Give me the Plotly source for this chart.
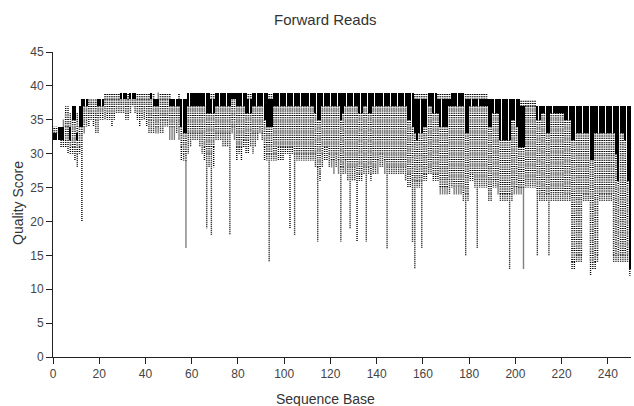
import plotly.graph_objects as go

# Per-base quality percentiles (2nd, 9th, 25th, 75th, 91st, 98th)
bases = list(range(1, 251))

q02 = [
    32, 32, 32, 31, 31, 31, 30, 30, 30, 29,
    28, 30, 20, 33, 34, 34, 35, 34, 33, 33,
    35, 35, 35, 35, 35, 34, 35, 36, 36, 36,
    36, 35, 35, 36, 37, 36, 35, 34, 35, 35,
    34, 33, 33, 33, 33, 33, 33, 33, 34, 34,
    32, 32, 32, 33, 32, 29, 29, 16, 30, 31,
    32, 32, 32, 31, 30, 29, 19, 28, 18, 28,
    32, 32, 32, 31, 31, 31, 18, 33, 32, 29,
    30, 29, 31, 30, 30, 31, 30, 31, 32, 33,
    32, 29, 29, 14, 29, 29, 29, 29, 29, 29,
    30, 30, 19, 30, 18, 29, 29, 29, 29, 29,
    29, 29, 29, 28, 17, 26, 28, 29, 29, 28,
    28, 27, 28, 27, 17, 27, 27, 26, 19, 26,
    26, 17, 26, 26, 27, 17, 27, 26, 27, 27,
    27, 28, 28, 27, 16, 27, 27, 27, 27, 27,
    27, 27, 26, 25, 25, 17, 13, 25, 25, 16,
    26, 26, 27, 27, 26, 26, 26, 24, 24, 24,
    24, 24, 25, 24, 24, 24, 24, 23, 15, 23,
    26, 26, 25, 16, 25, 25, 25, 25, 23, 23,
    25, 25, 24, 23, 23, 23, 23, 13, 23, 24,
    24, 24, 24, 13, 25, 25, 25, 25, 25, 15,
    23, 23, 23, 23, 15, 23, 23, 23, 23, 23,
    23, 23, 23, 23, 13, 13, 14, 14, 14, 23,
    23, 23, 12, 13, 13, 14, 23, 23, 23, 23,
    23, 23, 14, 14, 14, 14, 14, 14, 14, 12,
]

q09 = [
    32, 32, 32, 32, 32, 32, 32, 31, 31, 31,
    30, 31, 32, 34, 35, 36, 36, 36, 35, 35,
    36, 36, 37, 36, 36, 36, 36, 37, 37, 37,
    37, 36, 36, 37, 37, 37, 36, 36, 36, 37,
    36, 35, 35, 35, 34, 34, 35, 35, 35, 35,
    34, 34, 34, 35, 34, 31, 30, 29, 33, 33,
    33, 33, 33, 33, 33, 31, 30, 30, 30, 31,
    33, 33, 33, 33, 33, 33, 33, 34, 34, 31,
    31, 31, 32, 32, 32, 33, 33, 33, 33, 34,
    33, 31, 30, 30, 30, 30, 30, 31, 31, 31,
    31, 31, 31, 31, 30, 30, 30, 30, 30, 30,
    30, 30, 30, 30, 28, 27, 30, 31, 31, 30,
    29, 29, 30, 29, 28, 28, 29, 28, 28, 28,
    28, 27, 27, 27, 28, 28, 28, 27, 28, 28,
    29, 30, 30, 29, 28, 28, 28, 28, 28, 28,
    28, 28, 28, 27, 27, 26, 26, 26, 26, 26,
    27, 27, 28, 28, 27, 27, 27, 25, 25, 25,
    25, 26, 26, 25, 25, 25, 25, 24, 24, 24,
    27, 27, 26, 26, 26, 26, 26, 26, 24, 24,
    26, 26, 25, 24, 24, 24, 24, 24, 24, 25,
    25, 25, 25, 25, 26, 26, 26, 26, 26, 24,
    24, 24, 24, 24, 24, 24, 24, 24, 24, 24,
    24, 24, 24, 24, 14, 14, 15, 15, 15, 24,
    24, 24, 14, 14, 14, 15, 24, 24, 24, 24,
    24, 24, 15, 15, 15, 15, 15, 15, 15, 13,
]

q25 = [
    32, 32, 32, 32, 32, 34, 34, 32, 35, 35,
    32, 34, 34, 37, 37, 38, 38, 38, 38, 37,
    37, 37, 38, 38, 38, 38, 38, 38, 38, 38,
    38, 38, 38, 38, 38, 38, 38, 38, 38, 38,
    38, 38, 38, 37, 37, 37, 38, 38, 38, 38,
    37, 37, 37, 37, 37, 34, 33, 33, 37, 37,
    37, 37, 37, 37, 37, 37, 36, 36, 36, 36,
    37, 37, 37, 37, 37, 37, 37, 38, 38, 37,
    37, 37, 37, 36, 36, 36, 37, 37, 37, 37,
    37, 35, 34, 34, 34, 37, 37, 37, 37, 37,
    37, 37, 37, 37, 37, 37, 37, 37, 37, 37,
    37, 37, 37, 36, 35, 35, 37, 37, 37, 37,
    37, 37, 37, 37, 35, 36, 37, 37, 37, 37,
    37, 37, 36, 36, 37, 37, 36, 36, 37, 37,
    37, 37, 37, 37, 37, 37, 37, 37, 37, 37,
    37, 37, 37, 35, 35, 34, 33, 32, 33, 33,
    34, 34, 37, 37, 36, 36, 36, 34, 34, 34,
    34, 37, 37, 37, 37, 37, 37, 37, 33, 33,
    37, 37, 37, 37, 37, 37, 37, 37, 34, 34,
    36, 36, 36, 32, 32, 32, 32, 32, 35, 35,
    34, 31, 31, 31, 37, 37, 37, 37, 37, 35,
    35, 36, 36, 33, 33, 36, 36, 36, 36, 36,
    36, 35, 35, 35, 32, 32, 33, 33, 33, 33,
    33, 33, 29, 29, 33, 33, 33, 33, 33, 33,
    33, 33, 33, 30, 26, 33, 33, 32, 26, 13,
]

q75 = [
    33, 33, 34, 34, 34, 34, 34, 34, 37, 37,
    33, 37, 38, 38, 38, 38, 38, 38, 38, 38,
    38, 38, 38, 38, 38, 38, 38, 38, 38, 39,
    39, 39, 38, 39, 39, 39, 38, 38, 38, 38,
    38, 38, 39, 38, 38, 38, 38, 38, 38, 38,
    38, 38, 38, 38, 38, 38, 38, 38, 39, 39,
    39, 39, 39, 39, 39, 39, 39, 39, 38, 38,
    39, 39, 39, 39, 39, 39, 39, 39, 39, 39,
    39, 39, 39, 39, 38, 38, 39, 39, 39, 39,
    39, 39, 39, 38, 38, 39, 39, 39, 39, 39,
    39, 39, 39, 39, 39, 39, 39, 39, 39, 39,
    39, 39, 39, 39, 39, 39, 39, 39, 39, 39,
    39, 39, 39, 39, 39, 39, 39, 39, 39, 39,
    39, 39, 39, 39, 39, 39, 39, 39, 39, 39,
    39, 39, 39, 39, 39, 39, 39, 39, 39, 39,
    39, 39, 39, 39, 39, 39, 38, 38, 38, 38,
    38, 38, 39, 39, 39, 39, 38, 38, 38, 38,
    38, 38, 39, 39, 39, 39, 39, 39, 38, 38,
    38, 38, 38, 38, 38, 38, 38, 38, 38, 38,
    38, 38, 38, 38, 38, 38, 38, 38, 38, 38,
    38, 38, 37, 37, 37, 37, 37, 37, 37, 37,
    37, 37, 37, 37, 37, 37, 37, 37, 37, 37,
    37, 37, 37, 37, 37, 37, 37, 37, 37, 37,
    37, 37, 37, 37, 37, 37, 37, 37, 37, 37,
    37, 37, 37, 37, 37, 37, 37, 37, 37, 37,
]

q91 = [
    34, 34, 34, 34, 34, 36, 36, 35, 37, 37,
    35, 37, 38, 38, 38, 38, 38, 38, 38, 38,
    38, 38, 39, 39, 39, 39, 39, 39, 39, 39,
    39, 39, 39, 39, 39, 39, 39, 39, 39, 39,
    39, 39, 39, 39, 38, 38, 39, 39, 39, 39,
    39, 38, 38, 38, 39, 38, 38, 38, 39, 39,
    39, 39, 39, 39, 39, 39, 39, 39, 39, 39,
    39, 39, 39, 39, 39, 39, 39, 39, 39, 39,
    39, 39, 39, 39, 39, 39, 39, 39, 39, 39,
    39, 39, 39, 39, 39, 39, 39, 39, 39, 39,
    39, 39, 39, 39, 39, 39, 39, 39, 39, 39,
    39, 39, 39, 39, 39, 39, 39, 39, 39, 39,
    39, 39, 39, 39, 39, 39, 39, 39, 39, 39,
    39, 39, 39, 39, 39, 39, 39, 39, 39, 39,
    39, 39, 39, 39, 39, 39, 39, 39, 39, 39,
    39, 39, 39, 39, 39, 39, 39, 39, 39, 39,
    39, 39, 39, 39, 39, 39, 39, 39, 39, 39,
    39, 39, 39, 39, 39, 39, 39, 39, 39, 39,
    39, 39, 39, 39, 39, 39, 39, 39, 38, 38,
    38, 38, 38, 38, 38, 38, 38, 38, 38, 38,
    38, 38, 38, 38, 38, 38, 38, 38, 38, 37,
    37, 37, 37, 37, 37, 37, 37, 37, 37, 37,
    37, 37, 37, 37, 37, 37, 37, 37, 37, 37,
    37, 37, 37, 37, 37, 37, 37, 37, 37, 37,
    37, 37, 37, 37, 37, 37, 37, 37, 37, 37,
]

q98 = [
    34, 34, 34, 34, 35, 37, 37, 36, 37, 37,
    36, 37, 38, 38, 38, 38, 38, 38, 38, 38,
    38, 38, 39, 39, 39, 39, 39, 39, 39, 39,
    39, 39, 39, 39, 39, 39, 39, 39, 39, 39,
    39, 39, 39, 39, 38, 39, 39, 39, 39, 39,
    39, 38, 38, 38, 39, 38, 38, 38, 39, 39,
    39, 39, 39, 39, 39, 39, 39, 39, 39, 39,
    39, 39, 39, 39, 39, 39, 39, 39, 39, 39,
    39, 39, 39, 39, 39, 39, 39, 39, 39, 39,
    39, 39, 39, 39, 39, 39, 39, 39, 39, 39,
    39, 39, 39, 39, 39, 39, 39, 39, 39, 39,
    39, 39, 39, 39, 39, 39, 39, 39, 39, 39,
    39, 39, 39, 39, 39, 39, 39, 39, 39, 39,
    39, 39, 39, 39, 39, 39, 39, 39, 39, 39,
    39, 39, 39, 39, 39, 39, 39, 39, 39, 39,
    39, 39, 39, 39, 39, 39, 39, 39, 39, 39,
    39, 39, 39, 39, 39, 39, 39, 39, 39, 39,
    39, 39, 39, 39, 39, 39, 39, 39, 39, 39,
    39, 39, 39, 39, 39, 39, 39, 39, 38, 38,
    38, 38, 38, 38, 38, 38, 38, 38, 38, 38,
    38, 38, 38, 38, 38, 38, 38, 38, 38, 37,
    37, 37, 37, 37, 37, 37, 37, 37, 37, 37,
    37, 37, 37, 37, 37, 37, 37, 37, 37, 37,
    37, 37, 37, 37, 37, 37, 37, 37, 37, 37,
    37, 37, 37, 37, 37, 37, 37, 37, 37, 37,
]

x_ticks = [0, 20, 40, 60, 80, 100, 120, 140, 160, 180, 200, 220, 240]
y_ticks = [0, 5, 10, 15, 20, 25, 30, 35, 40, 45]

# each base sits in the unit interval ending at its index
xs = [b - 0.5 for b in bases]


def vertical_segments(starts, ends):
    """One vertical segment per base, drawn from `starts` toward `ends`."""
    sx, sy = [], []
    for x, a, b in zip(xs, starts, ends):
        if a != b:
            sx += [x, x, None]
            sy += [a, b, None]
    return sx, sy


# inner dotted band: 9th-25th and 75th-91st percentiles
lo_x, lo_y = vertical_segments(q25, q09)
hi_x, hi_y = vertical_segments(q75, q91)
band_x, band_y = lo_x + hi_x, lo_y + hi_y

# outer whiskers: 2nd-9th and 91st-98th percentiles
wl_x, wl_y = vertical_segments(q09, q02)
wh_x, wh_y = vertical_segments(q91, q98)
wsk_x, wsk_y = wl_x + wh_x, wl_y + wh_y

fig = go.Figure()

fig.add_trace(go.Scatter(
    x=wsk_x, y=wsk_y, mode="lines", connectgaps=False, hoverinfo="skip",
    line=dict(color="#000000", width=1.4, dash="1px,1px", simplify=False),
))
fig.add_trace(go.Scatter(
    x=band_x, y=band_y, mode="lines", connectgaps=False, hoverinfo="skip",
    line=dict(color="#000000", width=1.7, dash="1px,1.2px", simplify=False),
))
fig.add_trace(go.Bar(
    x=xs, y=[hi - lo for lo, hi in zip(q25, q75)], base=q25, width=0.88,
    marker=dict(color="#000000", line=dict(width=0)),
    hovertemplate="Base %{x}<extra></extra>",
))

font_family = "Liberation Sans, Arial, sans-serif"

fig.update_layout(
    width=634, height=406,
    margin=dict(l=53, r=3, t=52, b=49),
    paper_bgcolor="white", plot_bgcolor="white",
    showlegend=False, bargap=0,
    font=dict(family=font_family, size=12, color="#444444"),
    xaxis=dict(
        range=[0, 250], tickmode="array", tickvals=x_ticks,
        ticktext=[str(t) for t in x_ticks],
        showgrid=False, zeroline=False, showline=True,
        linecolor="#222222", linewidth=1,
        ticks="outside", ticklen=6, tickcolor="#222222",
        tickfont=dict(size=12, color="#444444"),
    ),
    yaxis=dict(
        range=[0, 45], tickmode="array", tickvals=y_ticks,
        ticktext=[str(t) for t in y_ticks],
        showgrid=False, zeroline=False, showline=True,
        linecolor="#222222", linewidth=1,
        ticks="outside", ticklen=6, tickcolor="#222222",
        tickfont=dict(size=12, color="#444444"),
    ),
    annotations=[
        dict(text="Forward Reads", xref="paper", yref="paper",
             x=(325 - 53) / 578, y=1 + (52 - 20) / 305,
             xanchor="center", yanchor="middle", showarrow=False,
             font=dict(family=font_family, size=15, color="#333333")),
        dict(text="Sequence Base", xref="paper", yref="paper",
             x=(325 - 53) / 578, y=-(399 - 357) / 305,
             xanchor="center", yanchor="middle", showarrow=False,
             font=dict(family=font_family, size=14, color="#333333")),
        dict(text="Quality Score", xref="paper", yref="paper",
             x=-(53 - 18) / 578, y=(357 - 203) / 305, textangle=-90,
             xanchor="center", yanchor="middle", showarrow=False,
             font=dict(family=font_family, size=14, color="#333333")),
    ],
)

fig.write_html("out.html")
